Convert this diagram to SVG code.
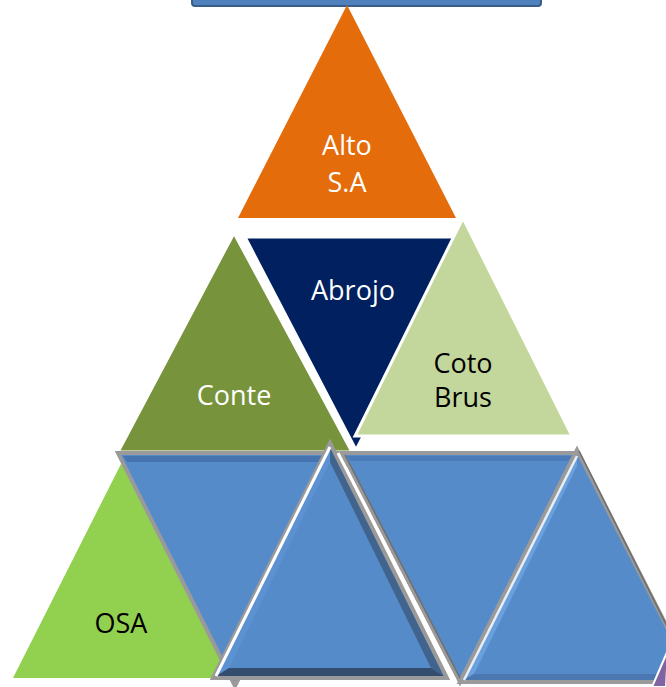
<svg xmlns="http://www.w3.org/2000/svg" width="666" height="687" viewBox="0 0 666 687">
<style>
.lbl{font-family:"Open Sans","Noto Sans","Liberation Sans",sans-serif;font-size:27px;text-anchor:middle}
.w{fill:#ffffff}
.k{fill:#000000}
.tri{stroke:#ffffff;stroke-width:3;stroke-linejoin:miter}
.blue{fill:#568BCA}
.edge{fill:none;stroke:#9a9a9a;stroke-width:4;stroke-linejoin:miter}
.edgeDark{fill:none;stroke:#6e6e6e;stroke-width:1.5}
</style>
<rect width="666" height="687" fill="#ffffff"/>
<g id="top-bar">
<rect x="192" y="-10" width="349" height="16" rx="3" fill="#4F81BD" stroke="#385D8A" stroke-width="2"/>
</g>
<g id="node-alto">
<polygon points="347,5 238,218 456,218" fill="#E46C0A"/>
<text class="lbl w" x="347" y="155">Alto</text>
<text class="lbl w" x="347" y="192">S.A</text>
</g>
<g id="node-abrojo">
<polygon class="tri" points="245,237 467,237 356,450" fill="#002060"/>
<text class="lbl w" x="353" y="300">Abrojo</text>
</g>
<g id="node-conte">
<polygon class="tri" points="234,233 118,452 352,452" fill="#77933C"/>
<text class="lbl w" x="234" y="405">Conte</text>
</g>
<g id="node-coto">
<polygon class="tri" points="463,218 355,436 572,436" fill="#C3D69B"/>
<text class="lbl k" x="463" y="373">Coto</text>
<text class="lbl k" x="463" y="407">Brus</text>
</g>
<g id="node-osa">
<polygon points="122,462 13,678 231,678" fill="#92D050"/>
<text class="lbl k" x="121" y="633">OSA</text>
</g>
<g id="blue-inv-1">
<polygon class="blue" points="118,453 352,453 235,686"/>
<polygon points="123,456 347,456 343,462 127,462" fill="#4674AE"/>
<polygon class="edge" points="118,453 352,453 235,686"/>
</g>
<g id="blue-up-1">
<polygon class="blue" points="330,443 213,678 447,678"/>
<polygon points="330,443 330,462 229,668 213,678" fill="#5D92D2"/>
<polygon points="330,443 447,678 431,668 330,462" fill="#41648F"/>
<polygon points="213,678 447,678 431,668 229,668" fill="#344D6E"/>
<polygon class="edge" points="330,443 213,678 447,678"/>
<line x1="330" y1="447" x2="216" y2="676" stroke="#ffffff" stroke-width="3"/>
</g>
<g id="blue-inv-2">
<polygon class="blue" points="342,453 577,453 460,682"/>
<polygon points="347,456 572,456 568,461 351,461" fill="#4A7BB8"/>
<polygon class="edge" points="342,453 577,453 460,682"/>
<line x1="338" y1="453" x2="457" y2="684" stroke="#ffffff" stroke-width="3"/>
<line x1="345" y1="455" x2="461" y2="680" class="edgeDark"/>
</g>
<g id="blue-up-2">
<polygon class="blue" points="577,450 460,682 695,682"/>
<polygon points="577,450 577,466 474,674 460,682" fill="#6AA0DE"/>
<polygon points="460,682 695,682 681,674 474,674" fill="#4B78B0"/>
<polygon class="edge" points="577,450 460,682 695,682"/>
<line x1="577" y1="456" x2="464" y2="680" stroke="#e8eef5" stroke-width="2.5"/>
<line x1="579" y1="451" x2="694" y2="680" class="edgeDark"/>
</g>
<g id="purple-corner">
<polygon points="668,650 652,687 666,687" fill="#8064A2" stroke="#ffffff" stroke-width="2"/>
</g>
<g id="connectors"></g>
</svg>
